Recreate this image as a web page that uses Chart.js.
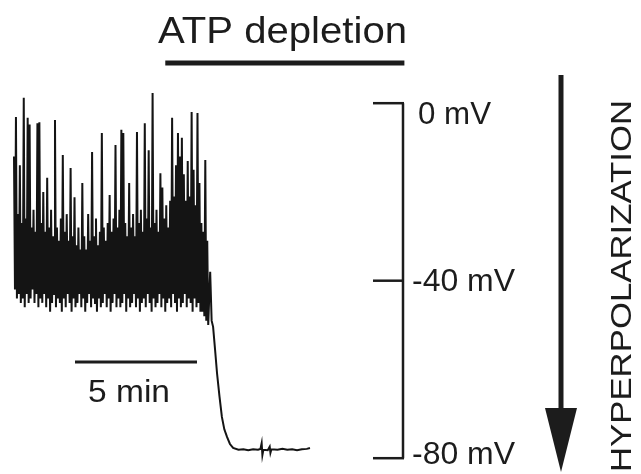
<!DOCTYPE html>
<html>
<head>
<meta charset="utf-8">
<script src="https://cdn.jsdelivr.net/npm/chart.js@4.4.1/dist/chart.umd.min.js"></script>
<style>
  html, body { margin: 0; padding: 0; background: #fff; }
  canvas { display: block; }
</style>
</head>
<body>
<canvas id="trace" width="641" height="474"></canvas>
<script>
// membrane potential (mV)
// noisy part: one peak + one trough every 0.08 min
const sampleStep = 0.08;
const peakVals = [
  -12, -3.1, -25, -14, -27, 1.2, -26, -3.3, -4.8, -28,
  -24, -29, -4.5, -4.3, -27, -20, -29, -16.8, -28, -24,
  -30, -3.8, -28, -31, -26, -11.7, -29, -25, -31, -14.6,
  -30, -21.2, -32, -28, -33, -18, -30, -33, -25, -31,
  -11, -30, -26, -32, -29, -6.7, -28, -31, -27, -20.7,
  -29, -26, -9.4, -28, -24, -6.0, -6.7, -27, -30, -18,
  -28, -25, -30, -6.5, -27, -24, -29, -4.5, -26, -10.6,
  -28, 2.3, -27, -24, -29, -15.8, -19, -26, -23, -28,
  -22, -3.3, -21, -14, -6.7, -12, -7.8, -16, -22, -13,
  -21, -2.0, -15, -23, -2.2, -18, -27, -29, -12.8, -31
];
const troughVals = [
  -42, -44, -43, -45, -44, -46, -43, -45, -44, -42,
  -45, -43, -46, -44, -45, -43, -46, -44, -47, -45,
  -43, -46, -44, -45, -47, -44, -46, -43, -45, -47,
  -44, -46, -45, -43, -46, -44, -47, -45, -43, -46,
  -44, -45, -47, -44, -46, -45, -43, -46, -44, -47,
  -45, -43, -46, -44, -46, -45, -43, -47, -44, -46,
  -45, -43, -46, -44, -47, -45, -44, -46, -43, -45,
  -47, -44, -46, -45, -43, -46, -44, -47, -45, -44,
  -46, -43, -45, -47, -44, -46, -45, -43, -46, -44,
  -45, -47, -44, -46, -45, -47, -47, -48, -49, -50
];
// collapse after ATP depletion
const dropTimes = [8.04, 8.10, 8.16, 8.24, 8.32, 8.42, 8.52, 8.62, 8.73, 8.85, 8.98, 9.2];
const dropVals  = [-38, -49, -50.4, -55.5, -60.8, -66, -70.7, -73.5, -75.2, -76.8, -77.7, -78.1];
// hyperpolarized plateau
const flatTimes = [9.4, 9.6, 9.8, 10.0, 10.1, 10.15, 10.18, 10.22, 10.4, 10.48, 10.51, 10.55, 10.8, 11.0, 11.2, 11.4, 11.6, 11.8, 12.0, 12.13];
const flatVals  = [-78.0, -78.2, -78.0, -78.1, -77.9, -76.6, -79.3, -78.1, -78.2, -77.4, -78.8, -78.0, -78.1, -77.9, -78.1, -78.0, -78.2, -78.0, -77.9, -77.7];

// scale bar ticks (mV) and their labels
const mvTicks = [0, -40, -80];
const mvLabels = ['0 mV', '-40 mV', '-80 mV'];
// time bar (min) and ATP depletion period (min)
const timeBar = [2.5, 7.5];
const timeBarLabel = '5 min';
const atpPeriod = [6.2, 16.0];
const atpLabel = 'ATP depletion';
const arrowLabel = 'HYPERPOLARIZATION';

const points = [];
for (let i = 0; i < peakVals.length; i++) {
  points.push({ x: i * sampleStep, y: peakVals[i] });
  points.push({ x: i * sampleStep + sampleStep / 2, y: troughVals[i] });
}
dropTimes.forEach((t, i) => points.push({ x: t, y: dropVals[i] }));
flatTimes.forEach((t, i) => points.push({ x: t, y: flatVals[i] }));

const FONT = '"Liberation Sans", Arial, Helvetica, sans-serif';
const INK = '#1c1c1c';

// draws text squeezed/stretched to a given width
function fitText(ctx, text, x, y, width, size, align) {
  ctx.save();
  ctx.font = size + 'px ' + FONT;
  const w = ctx.measureText(text).width;
  const s = width / w;
  ctx.translate(x, y);
  ctx.scale(s, 1);
  ctx.textAlign = align || 'left';
  ctx.fillText(text, 0, 0);
  ctx.restore();
}

const decorations = {
  id: 'decorations',
  afterDraw(chart) {
    const ctx = chart.ctx;
    const xs = chart.scales.x;
    const ys = chart.scales.y;
    ctx.save();
    ctx.fillStyle = INK;
    ctx.strokeStyle = INK;
    ctx.lineCap = 'butt';

    // ATP depletion bar + title
    ctx.lineWidth = 5;
    ctx.beginPath();
    ctx.moveTo(xs.getPixelForValue(atpPeriod[0]), 63);
    ctx.lineTo(xs.getPixelForValue(atpPeriod[1]), 63);
    ctx.stroke();
    ctx.textBaseline = 'alphabetic';
    fitText(ctx, atpLabel, 158, 43, 249, 37, 'left');

    // 5 min bar
    ctx.lineWidth = 3;
    ctx.beginPath();
    ctx.moveTo(xs.getPixelForValue(timeBar[0]), 362);
    ctx.lineTo(xs.getPixelForValue(timeBar[1]), 362);
    ctx.stroke();
    fitText(ctx, timeBarLabel, 88, 402, 82, 32, 'left');

    // mV scale bar
    const barX = 403;
    ctx.lineWidth = 2.5;
    ctx.beginPath();
    ctx.moveTo(barX, ys.getPixelForValue(mvTicks[0]));
    ctx.lineTo(barX, ys.getPixelForValue(mvTicks[mvTicks.length - 1]));
    ctx.stroke();
    mvTicks.forEach((v, i) => {
      const py = ys.getPixelForValue(v);
      ctx.beginPath();
      ctx.moveTo(barX - 30, py);
      ctx.lineTo(barX + 1, py);
      ctx.stroke();
      let by;
      if (i === 0) by = py + 21;
      else if (i === mvTicks.length - 1) by = py + 6;
      else by = py + 10;
      const lx = i === 0 ? 418 : 412;
      const lw = i === 0 ? 73 : 103;
      fitText(ctx, mvLabels[i], lx, by, lw, 31, 'left');
    });

    // hyperpolarization arrow
    ctx.lineWidth = 5;
    ctx.beginPath();
    ctx.moveTo(561, 75);
    ctx.lineTo(561, 412);
    ctx.stroke();
    ctx.beginPath();
    ctx.moveTo(545, 408);
    ctx.lineTo(577, 408);
    ctx.lineTo(561, 472);
    ctx.closePath();
    ctx.fill();

    ctx.save();
    ctx.translate(631, 472);
    ctx.rotate(-Math.PI / 2);
    fitText(ctx, arrowLabel, 0, 0, 372, 30, 'left');
    ctx.restore();

    ctx.restore();
  }
};

new Chart(document.getElementById('trace').getContext('2d'), {
  type: 'line',
  data: {
    datasets: [{
      data: points,
      borderColor: '#141414',
      borderWidth: 2,
      pointRadius: 0,
      tension: 0,
      fill: false
    }]
  },
  options: {
    responsive: false,
    animation: false,
    layout: { padding: 0 },
    plugins: {
      legend: { display: false },
      tooltip: { enabled: false },
      title: { display: false }
    },
    scales: {
      x: { type: 'linear', display: false, min: -0.5738, max: 25.697 },
      y: { type: 'linear', display: false, min: -83.561, max: 23.256 }
    }
  },
  plugins: [decorations]
});
</script>
</body>
</html>
